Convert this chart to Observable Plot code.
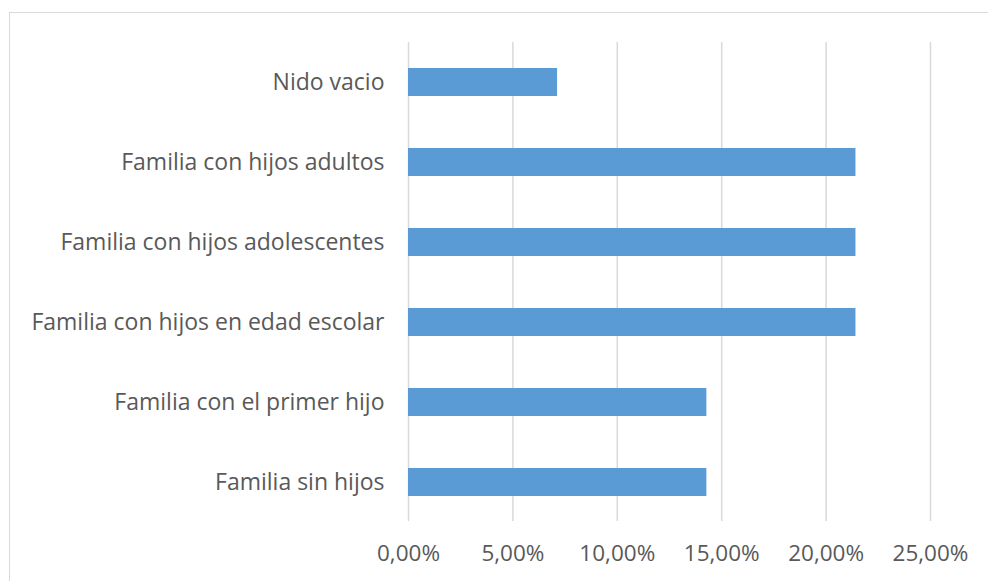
<!DOCTYPE html>
<html><head><meta charset="utf-8">
<script src="https://cdn.jsdelivr.net/npm/d3@7"></script>
<script src="https://cdn.jsdelivr.net/npm/@observablehq/plot@0.6"></script>
<style>
html,body{margin:0;padding:0;background:#fff;overflow:hidden;}
#wrap{position:relative;width:988px;height:581px;}
#border{position:absolute;left:9px;top:12px;width:1100px;height:700px;border:1.5px solid #d9d9d9;box-sizing:border-box;}
#chart{position:absolute;left:0;top:0;}
</style></head>
<body><div id="wrap"><div id="border"></div><div id="chart"></div></div>
<script>
const categories = ["Nido vacio","Familia con hijos adultos","Familia con hijos adolescentes","Familia con hijos en edad escolar","Familia con el primer hijo","Familia sin hijos"];
const values = [0.0714, 0.2143, 0.2143, 0.2143, 0.1429, 0.1429];
const xTicks = [0, 0.05, 0.10, 0.15, 0.20, 0.25];
const tickLabels = ["0,00%","5,00%","10,00%","15,00%","20,00%","25,00%"];

const data = categories.map((c,i)=>({cat:c, v:values[i]}));
const fmt = (d)=> tickLabels[xTicks.findIndex(t=>Math.abs(t-d)<1e-9)];

const chart = Plot.plot({
  width: 988, height: 581,
  marginLeft: 408, marginRight: 58, marginTop: 42, marginBottom: 60,
  style: {fontFamily: "'Open Sans', sans-serif", fontSize: "20px", color: "#595959", background: "transparent"},
  x: {domain: [0, 0.25], ticks: xTicks, tickFormat: fmt, label: null},
  y: {domain: categories, paddingInner: 0.65, paddingOuter: 0.3, label: null},
  marks: [
    Plot.gridX(xTicks, {stroke: "#d9d9d9", strokeOpacity: 1, strokeWidth: 1.5}),
    Plot.barX(data, {x: "v", y: "cat", fill: "#5b9bd5"}),
    Plot.axisX({ticks: xTicks, tickSize: 0, tickPadding: 24, fontSize: 22.5, tickFormat: fmt, label: null, fill: "#595959"}),
    Plot.axisY({tickSize: 0, tickPadding: 24, fontSize: 23, label: null, fill: "#595959"})
  ]
});
document.getElementById("chart").appendChild(chart);
</script></body></html>
